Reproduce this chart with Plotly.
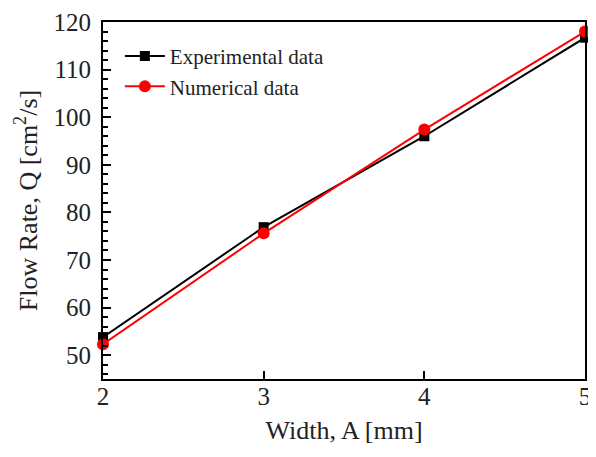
import plotly.graph_objects as go

width_mm = [2, 3, 4, 5]
experimental = [53.8, 76.9, 96.0, 116.7]
numerical = [52.3, 75.6, 97.4, 118.0]

font_family = "Liberation Serif, Times New Roman, serif"

fig = go.Figure()
fig.add_trace(go.Scatter(
    x=width_mm, y=experimental, mode="lines+markers", name="Experimental data",
    line=dict(color="black", width=2),
    marker=dict(symbol="square", size=10, color="black"),
    cliponaxis=False,
))
fig.add_trace(go.Scatter(
    x=width_mm, y=numerical, mode="lines+markers", name="Numerical data",
    line=dict(color="#ff0000", width=2),
    marker=dict(symbol="circle", size=12, color="#ff0000"),
    cliponaxis=False,
))

fig.update_layout(
    width=588, height=449,
    margin=dict(l=95, r=11, t=14, b=78, autoexpand=False),
    paper_bgcolor="white", plot_bgcolor="white",
    font=dict(family=font_family, color="#222222", size=24),
    showlegend=True,
    legend=dict(x=0.035, y=0.961, xanchor="left", yanchor="top",
                bgcolor="rgba(0,0,0,0)", font=dict(size=21, family=font_family),
                tracegroupgap=0, itemwidth=40),
    xaxis=dict(
        range=[2, 5], tickvals=[2, 3, 4, 5], ticks="inside", ticklen=8, tickwidth=2,
        tickcolor="black", showline=True, linecolor="black", linewidth=2, mirror=True,
        showgrid=False, zeroline=False, tickfont=dict(size=25), ticklabelstandoff=-6,
        title=dict(text="Width, A [mm]", font=dict(size=26), standoff=12),
    ),
    yaxis=dict(
        range=[45, 120], tickvals=[50, 60, 70, 80, 90, 100, 110, 120], ticks="inside",
        ticklen=8, tickwidth=2, tickcolor="black",
        minor=dict(ticks="inside", ticklen=5, tickwidth=1.5, dtick=2, tick0=0, tickcolor="black", showgrid=False),
        showline=True, linecolor="black", linewidth=2, mirror=True,
        showgrid=False, zeroline=False, tickfont=dict(size=25), ticklabelstandoff=5,
        title=dict(text="Flow Rate, Q [cm<sup>2</sup>/s]", font=dict(size=26), standoff=8),
    ),
)

fig.write_html("out.html")
